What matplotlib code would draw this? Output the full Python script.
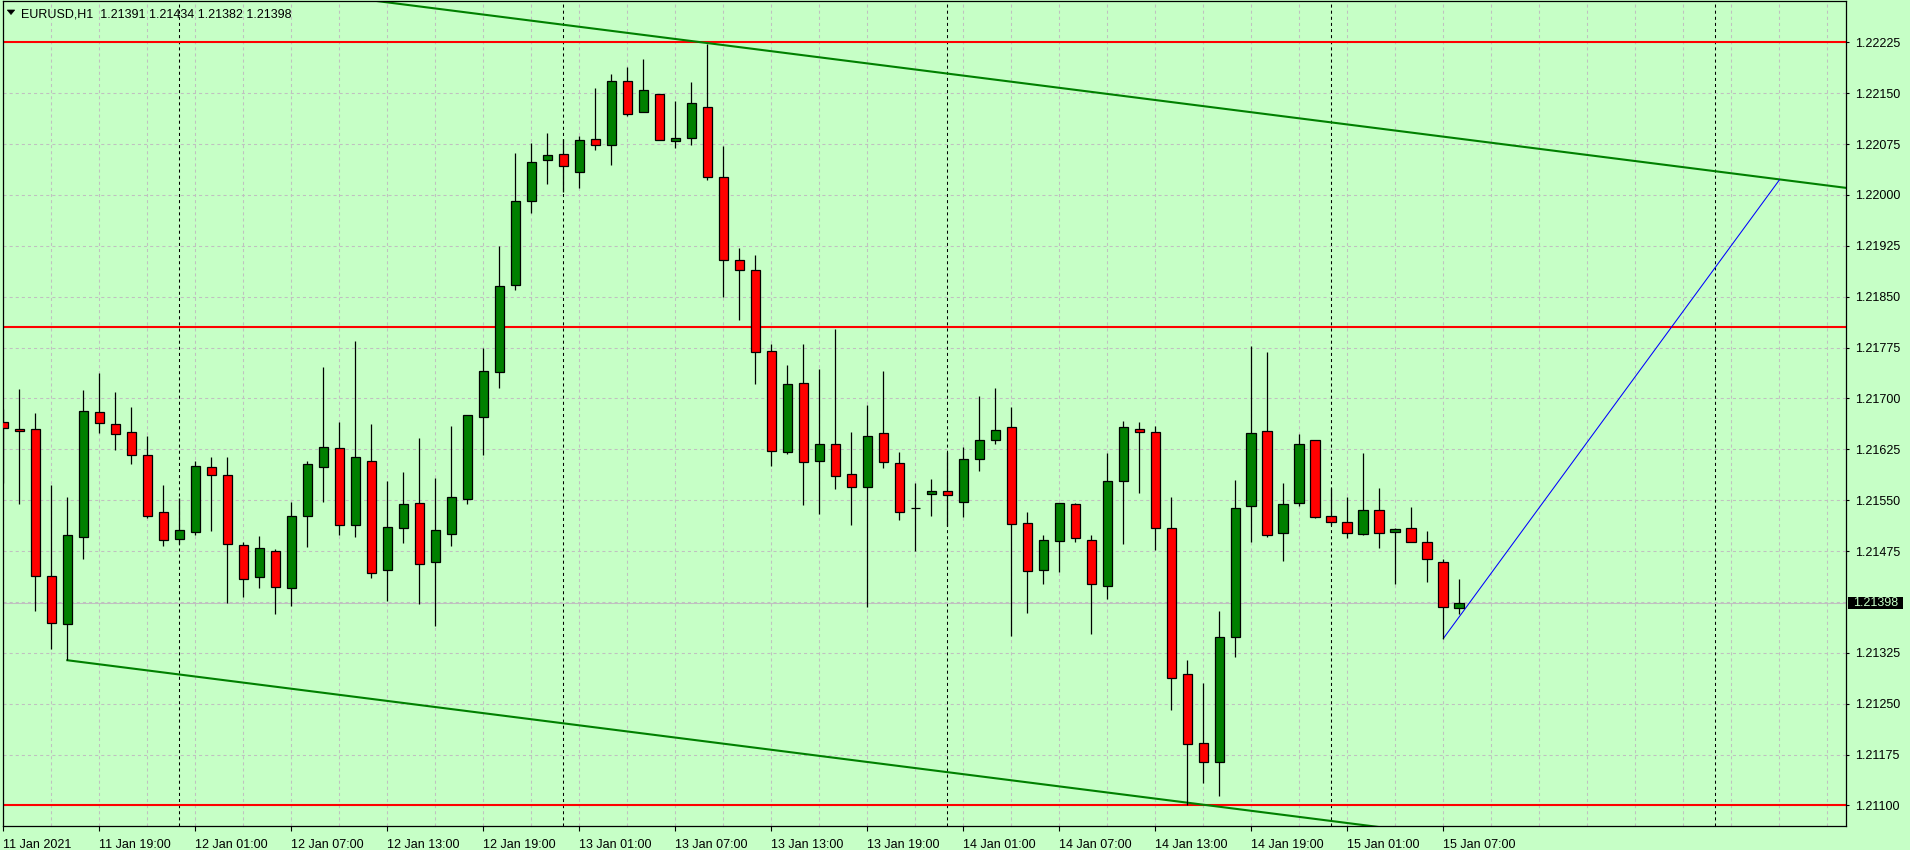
import matplotlib
matplotlib.use("Agg")
import matplotlib.pyplot as plt
from matplotlib.transforms import blended_transform_factory
from matplotlib.patches import Polygon, Rectangle
import numpy as np

# ---------------- data ----------------
symbol = "EURUSD,H1"

opens = [
    1.21665, 1.21655, 1.21655, 1.21438, 1.21368, 1.21495, 1.21680, 1.21663, 1.21651, 1.21617,
    1.21533, 1.21493, 1.21503, 1.21599, 1.21587, 1.21484, 1.21436, 1.21475, 1.21421, 1.21527,
    1.21599, 1.21627, 1.21514, 1.21608, 1.21447, 1.21509, 1.21546, 1.21459, 1.21500, 1.21552,
    1.21673, 1.21739, 1.21867, 1.21991, 1.22052, 1.22061, 1.22034, 1.22083, 1.22074, 1.22168,
    1.22122, 1.22149, 1.22080, 1.22084, 1.22130, 1.22027, 1.21904, 1.21890, 1.21770, 1.21621,
    1.21723, 1.21608, 1.21633, 1.21589, 1.21570, 1.21649, 1.21605, 1.21538, 1.21559, 1.21564,
    1.21548, 1.21610, 1.21639, 1.21658, 1.21517, 1.21447, 1.21490, 1.21545, 1.21492, 1.21424,
    1.21578, 1.21655, 1.21651, 1.21509, 1.21293, 1.21192, 1.21164, 1.21348, 1.21541, 1.21652,
    1.21501, 1.21546, 1.21639, 1.21527, 1.21518, 1.21500, 1.21536, 1.21503, 1.21509, 1.21489,
    1.21459, 1.21391]

highs = [
    1.21684, 1.21714, 1.21679, 1.21573, 1.21554, 1.21712, 1.21737, 1.21710, 1.21687, 1.21645,
    1.21573, 1.21553, 1.21608, 1.21613, 1.21614, 1.21488, 1.21497, 1.21478, 1.21547, 1.21608,
    1.21746, 1.21666, 1.21785, 1.21662, 1.21578, 1.21592, 1.21642, 1.21582, 1.21659, 1.21676,
    1.21774, 1.21925, 1.22062, 1.22077, 1.22092, 1.22082, 1.22087, 1.22157, 1.22179, 1.22189,
    1.22201, 1.22149, 1.22138, 1.22167, 1.22222, 1.22072, 1.21922, 1.21912, 1.21781, 1.21750,
    1.21780, 1.21744, 1.21802, 1.21650, 1.21691, 1.21741, 1.21621, 1.21575, 1.21581, 1.21621,
    1.21629, 1.21704, 1.21715, 1.21687, 1.21533, 1.21499, 1.21546, 1.21546, 1.21499, 1.21620,
    1.21667, 1.21666, 1.21659, 1.21554, 1.21315, 1.21280, 1.21386, 1.21580, 1.21778, 1.21768,
    1.21575, 1.21648, 1.21639, 1.21568, 1.21555, 1.21620, 1.21568, 1.21509, 1.21540, 1.21504,
    1.21464, 1.21434]

lows = [
    1.21576, 1.21545, 1.21386, 1.21330, 1.21314, 1.21463, 1.21649, 1.21624, 1.21603, 1.21524,
    1.21482, 1.21485, 1.21498, 1.21504, 1.21398, 1.21407, 1.21420, 1.21382, 1.21394, 1.21481,
    1.21548, 1.21498, 1.21495, 1.21435, 1.21401, 1.21487, 1.21397, 1.21364, 1.21482, 1.21545,
    1.21617, 1.21715, 1.21860, 1.21973, 1.22016, 1.22004, 1.22010, 1.22067, 1.22044, 1.22116,
    1.22122, 1.22081, 1.22069, 1.22073, 1.22022, 1.21850, 1.21815, 1.21721, 1.21600, 1.21618,
    1.21543, 1.21529, 1.21566, 1.21513, 1.21393, 1.21598, 1.21521, 1.21475, 1.21526, 1.21512,
    1.21525, 1.21593, 1.21633, 1.21350, 1.21383, 1.21426, 1.21444, 1.21489, 1.21353, 1.21404,
    1.21486, 1.21561, 1.21476, 1.21240, 1.21101, 1.21133, 1.21114, 1.21319, 1.21489, 1.21495,
    1.21460, 1.21541, 1.21523, 1.21514, 1.21494, 1.21499, 1.21479, 1.21426, 1.21489, 1.21429,
    1.21346, 1.21382]

closes = [
    1.21657, 1.21652, 1.21438, 1.21369, 1.21498, 1.21682, 1.21664, 1.21648, 1.21617, 1.21527,
    1.21492, 1.21506, 1.21601, 1.21587, 1.21486, 1.21434, 1.21480, 1.21422, 1.21526, 1.21604,
    1.21629, 1.21514, 1.21613, 1.21443, 1.21511, 1.21545, 1.21456, 1.21506, 1.21555, 1.21676,
    1.21741, 1.21866, 1.21991, 1.22049, 1.22059, 1.22043, 1.22081, 1.22074, 1.22168, 1.22119,
    1.22155, 1.22081, 1.22084, 1.22136, 1.22027, 1.21904, 1.21890, 1.21769, 1.21622, 1.21722,
    1.21607, 1.21633, 1.21586, 1.21570, 1.21645, 1.21607, 1.21533, 1.21538, 1.21564, 1.21557,
    1.21611, 1.21639, 1.21654, 1.21515, 1.21445, 1.21492, 1.21546, 1.21494, 1.21427, 1.21579,
    1.21658, 1.21651, 1.21509, 1.21288, 1.21190, 1.21164, 1.21349, 1.21539, 1.21649, 1.21498,
    1.21545, 1.21633, 1.21525, 1.21518, 1.21501, 1.21536, 1.21501, 1.21508, 1.21489, 1.21464,
    1.21393, 1.21398]

time_labels = ["11 Jan 2021", "11 Jan 19:00", "12 Jan 01:00", "12 Jan 07:00",
               "12 Jan 13:00", "12 Jan 19:00", "13 Jan 01:00", "13 Jan 07:00",
               "13 Jan 13:00", "13 Jan 19:00", "14 Jan 01:00", "14 Jan 07:00",
               "14 Jan 13:00", "14 Jan 19:00", "15 Jan 01:00", "15 Jan 07:00"]
label_step = 6            # bars between time labels
grid_step = 3             # bars between vertical grid lines
day_start_bars = [11, 35, 59, 83, 107]

price_ticks = [1.22225, 1.22150, 1.22075, 1.22000, 1.21925, 1.21850, 1.21775,
               1.21700, 1.21625, 1.21550, 1.21475, 1.21400, 1.21325, 1.21250,
               1.21175, 1.21100]

level_prices = [1.22225, 1.21806, 1.21100]

# trend objects: (bar, price) anchors
channel_upper = ([44, 111], [1.22224, 1.22023])
channel_lower = ([4, 76], [1.21314, 1.21098])
blue_trend = ([90, 111], [1.21346, 1.22022])

# ---------------- style ----------------
BG = "#C6FFC6"
GRID = "#C0C0C0"
UP = "#008000"
DOWN = "#FF0000"
FONT = "Liberation Sans"
plt.rcParams["lines.scale_dashes"] = False
plt.rcParams["font.family"] = [FONT, "DejaVu Sans"]

W, H = 1910, 850
fig = plt.figure(figsize=(W / 100, H / 100), dpi=100, facecolor=BG)
left_px, right_px, top_px, bottom_px = 2.7, 1846, 1.0, 826
ax = fig.add_axes([left_px / W, 1 - bottom_px / H,
                   (right_px - left_px) / W, (bottom_px - top_px) / H])
ax.set_facecolor(BG)

n = len(opens)
x = np.arange(n)
o = np.array(opens); h = np.array(highs); l = np.array(lows); c = np.array(closes)

xmax = 115.17
ax.set_xlim(-0.04, xmax)
ax.set_ylim(1.210696, 1.22286)

# grid
for gx in range(0, int(xmax) + 1, grid_step):
    ax.axvline(gx, color=GRID, lw=0.75, ls=(0, (2.2, 2.2)), zorder=0.5)
for p in price_ticks:
    ax.axhline(p, color=GRID, lw=0.75, ls=(0, (2.2, 2.2)), zorder=0.5)

# day separators
for d in day_start_bars:
    ax.axvline(d, color="black", lw=0.75, ls=(0, (2.2, 2.2)), zorder=0.8)

# horizontal levels
for p in level_prices:
    ax.axhline(p, color="#FF0000", lw=1.5, zorder=1.5)

# bid line
ax.axhline(c[-1], color=GRID, lw=0.75, zorder=1.2)

# channel lines (rays)
def ray(anchor, x0, x1):
    (bx0, bx1), (p0, p1) = anchor
    s = (p1 - p0) / (bx1 - bx0)
    xs = np.array([x0, x1])
    return xs, p0 + s * (xs - bx0)

xs, ys = ray(channel_upper, -1, 130)
ax.plot(xs, ys, color=UP, lw=1.5, zorder=1.6)
xs, ys = ray(channel_lower, channel_lower[0][0], 130)
ax.plot(xs, ys, color=UP, lw=1.5, zorder=1.6)
ax.plot(blue_trend[0], blue_trend[1], color="#0000FF", lw=0.75, zorder=1.6)

# candles
ax.vlines(x, l, h, color="black", lw=0.9, zorder=3)
up = c >= o
ax.bar(x[up], (c - o)[up], bottom=o[up], width=0.6, color=UP,
       edgecolor="black", linewidth=0.9, zorder=4)
ax.bar(x[~up], (c - o)[~up], bottom=o[~up], width=0.6, color=DOWN,
       edgecolor="black", linewidth=0.9, zorder=4)

# spines
for sp in ax.spines.values():
    sp.set_color("black")
    sp.set_linewidth(0.9)

# y axis on right
ax.yaxis.tick_right()
shown = [p for p in price_ticks if abs(p - c[-1]) > 0.0002]
ax.set_yticks(shown)
ax.set_yticklabels([f"{p:.5f}" for p in shown])
ax.tick_params(axis="y", which="both", direction="out", length=2.5, width=0.8,
               pad=4, labelsize=9, colors="black", left=False, labelleft=False)

# x ticks
tick_bars = list(range(0, len(time_labels) * label_step, label_step))
ax.set_xticks(tick_bars)
ax.set_xticklabels([])
ax.tick_params(axis="x", direction="out", length=3.5, width=0.8, colors="black")
tr = blended_transform_factory(ax.transData, fig.transFigure)
for b, lab in zip(tick_bars, time_labels):
    ax.text(b, 1 - 848.5 / H, lab, transform=tr, ha="left", va="baseline",
            fontsize=9, color="black", clip_on=False)
# shift labels slightly right of tick
fig.canvas.draw()

# bid label box
y_disp = ax.transData.transform((0, c[-1]))[1]
fig.patches.append(Rectangle((1848 / W, (y_disp - 6) / H), 55 / W, 12 / H,
                             transform=fig.transFigure, facecolor="black",
                             edgecolor="none", zorder=5))
fig.text(1853 / W, y_disp / H, f"{c[-1]:.5f}", ha="left", va="center",
         fontsize=9, color=BG, zorder=6)

# header
fig.patches.append(Polygon([[7.3 / W, 1 - 10 / H], [14.7 / W, 1 - 10 / H],
                            [11 / W, 1 - 14.5 / H]], closed=True,
                           transform=fig.transFigure, facecolor="black",
                           edgecolor="black", lw=0.5))
fig.text(21.3 / W, 1 - 17.3 / H,
         f"{symbol}  {o[-1]:.5f} {h[-1]:.5f} {l[-1]:.5f} {c[-1]:.5f}",
         ha="left", va="baseline", fontsize=9, color="black")

fig.savefig("out.png", dpi=100, facecolor=BG)
